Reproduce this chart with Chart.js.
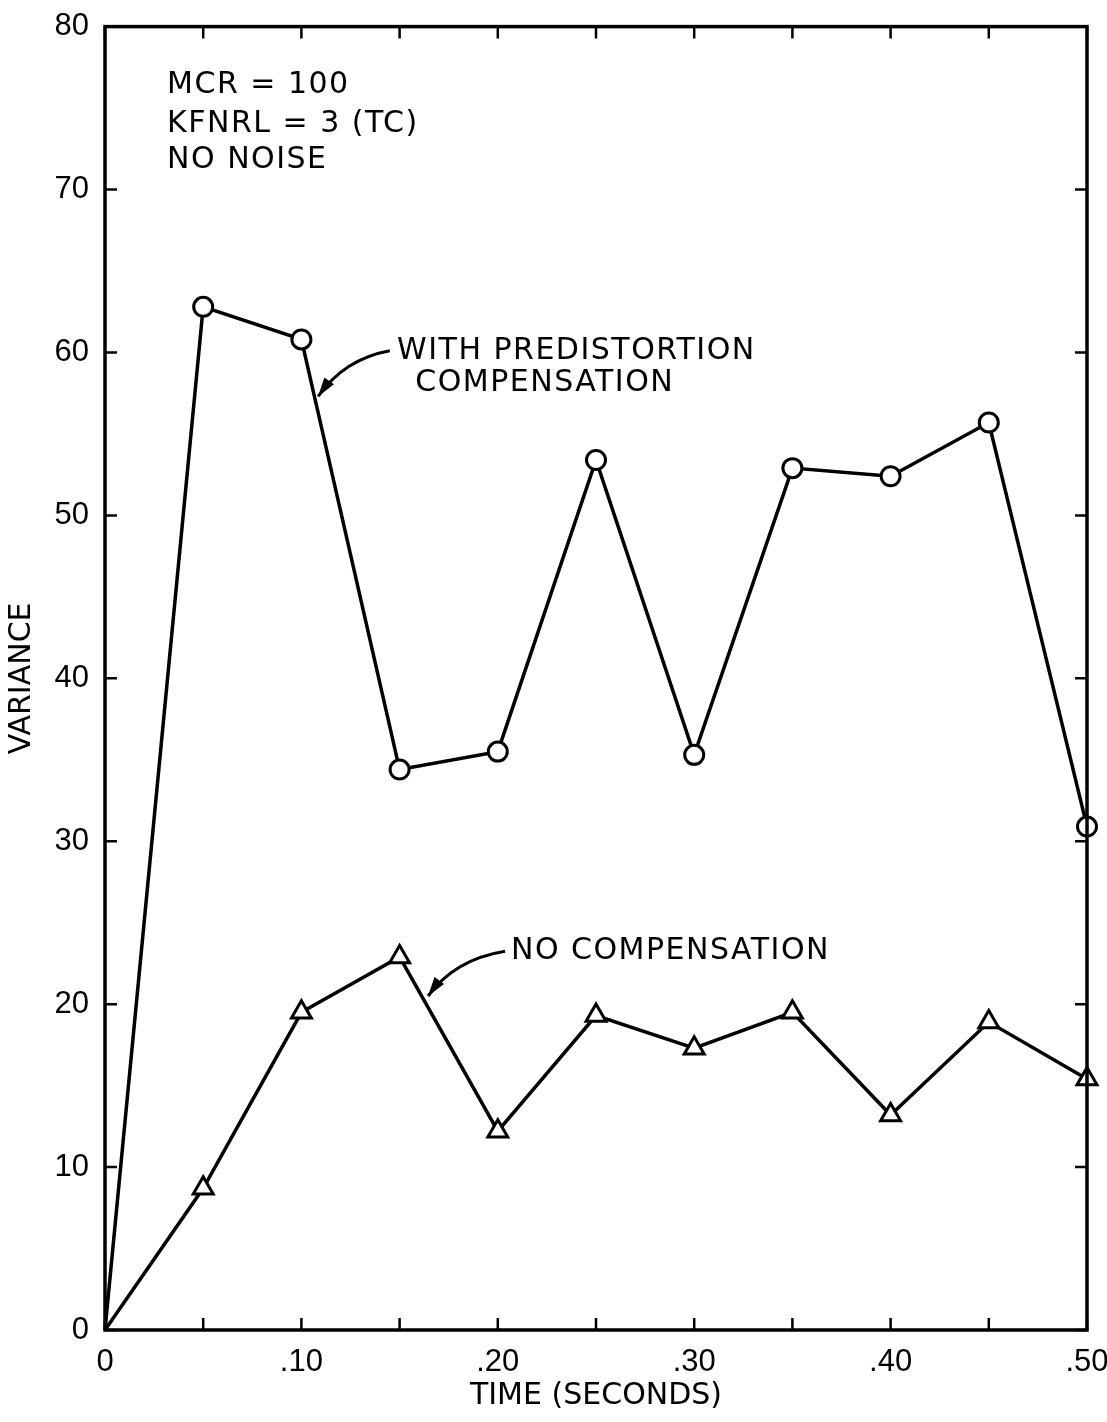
<!DOCTYPE html>
<html lang="en">
<head>
  <meta charset="UTF-8" />
  <title>Variance vs Time</title>
  <style>
    body { margin: 0; background: #fff; overflow: hidden; }
    #wrap { width: 1107px; height: 1422px; position: relative; }
  </style>
</head>
<body>
  <div id="wrap"><canvas id="chartCanvas"></canvas></div>
  <script src="https://cdn.jsdelivr.net/npm/chart.js"></script>
  <script>
    // values
    const times = [0, 0.05, 0.10, 0.15, 0.20, 0.25, 0.30, 0.35, 0.40, 0.45, 0.50];
    const withComp = [0, 62.8, 60.8, 34.4, 35.5, 53.4, 35.3, 52.9, 52.4, 55.7, 30.9];
    const noComp = [0, 8.7, 19.5, 22.9, 12.2, 19.3, 17.3, 19.5, 13.2, 18.9, 15.4];
    const yTicks = [0, 10, 20, 30, 40, 50, 60, 70, 80];
    const xLabelled = [0, 0.10, 0.20, 0.30, 0.40, 0.50];

    const FONT = "'DejaVu Sans', sans-serif";
    const TICK_FONT = "'Liberation Sans', sans-serif";

    // notes on the plot, placed in data units
    const notes = [
      { text: 'MCR = 100', x: 0.0316, y: 76.4 },
      { text: 'KFNRL = 3 (TC)', x: 0.0316, y: 74.0 },
      { text: 'NO NOISE', x: 0.0316, y: 71.8 },
      { text: 'WITH PREDISTORTION', x: 0.1487, y: 60.1 },
      { text: 'COMPENSATION', x: 0.158, y: 58.1 },
      { text: 'NO COMPENSATION', x: 0.2067, y: 23.25 }
    ];
    const arrows = [
      { from: [0.145, 60.1], ctrl: [0.122, 59.6], to: [0.1085, 57.3] },
      { from: [0.2037, 23.25], ctrl: [0.178, 22.75], to: [0.1645, 20.5] }
    ];

    const toPts = vals => times.map((t, i) => ({ x: t, y: vals[i] }));

    const framePlugin = {
      id: 'frame',
      afterDraw(chart) {
        const { ctx, chartArea: a, scales } = chart;
        const xs = scales.x, ys = scales.y;
        ctx.save();
        ctx.strokeStyle = '#000';
        ctx.lineWidth = 3.5;
        ctx.strokeRect(a.left, a.top, a.right - a.left, a.bottom - a.top);
        ctx.lineWidth = 2.5;
        const len = 12;
        xs.ticks.forEach(t => {
          const px = xs.getPixelForValue(t.value);
          ctx.beginPath();
          ctx.moveTo(px, a.bottom); ctx.lineTo(px, a.bottom - len);
          ctx.moveTo(px, a.top); ctx.lineTo(px, a.top + len);
          ctx.stroke();
        });
        ys.ticks.forEach(t => {
          const py = ys.getPixelForValue(t.value);
          ctx.beginPath();
          ctx.moveTo(a.left, py); ctx.lineTo(a.left + len, py);
          ctx.moveTo(a.right, py); ctx.lineTo(a.right - len, py);
          ctx.stroke();
        });

        // text notes
        ctx.fillStyle = '#000';
        ctx.font = '30px ' + FONT;
        ctx.letterSpacing = '1.5px';
        ctx.textBaseline = 'middle';
        ctx.textAlign = 'left';
        notes.forEach(n => {
          ctx.fillText(n.text, xs.getPixelForValue(n.x), ys.getPixelForValue(n.y));
        });
        ctx.letterSpacing = '0px';

        // curved pointers
        arrows.forEach(ar => {
          const p0 = [xs.getPixelForValue(ar.from[0]), ys.getPixelForValue(ar.from[1])];
          const c = [xs.getPixelForValue(ar.ctrl[0]), ys.getPixelForValue(ar.ctrl[1])];
          const p1 = [xs.getPixelForValue(ar.to[0]), ys.getPixelForValue(ar.to[1])];
          ctx.lineWidth = 3;
          ctx.beginPath();
          ctx.moveTo(p0[0], p0[1]);
          ctx.quadraticCurveTo(c[0], c[1], p1[0], p1[1]);
          ctx.stroke();
          const ang = Math.atan2(p1[1] - c[1], p1[0] - c[0]);
          const hl = 20, hw = 0.3;
          ctx.beginPath();
          ctx.moveTo(p1[0], p1[1]);
          ctx.lineTo(p1[0] - hl * Math.cos(ang - hw), p1[1] - hl * Math.sin(ang - hw));
          ctx.lineTo(p1[0] - hl * Math.cos(ang + hw), p1[1] - hl * Math.sin(ang + hw));
          ctx.closePath();
          ctx.fill();
        });
        ctx.restore();
      }
    };

    const ctx = document.getElementById('chartCanvas').getContext('2d');
    new Chart(ctx, {
      type: 'line',
      data: {
        datasets: [
          {
            label: 'With predistortion compensation',
            data: toPts(withComp),
            borderColor: '#000',
            borderWidth: 3.5,
            pointStyle: 'circle',
            pointRadius: times.map((t, i) => i === 0 ? 0 : 9.5),
            pointBackgroundColor: '#fff',
            pointBorderColor: '#000',
            pointBorderWidth: 3,
            tension: 0,
            clip: false
          },
          {
            label: 'No compensation',
            data: toPts(noComp),
            borderColor: '#000',
            borderWidth: 3.5,
            pointStyle: 'triangle',
            pointRadius: times.map((t, i) => i === 0 ? 0 : 11.5),
            pointBackgroundColor: '#fff',
            pointBorderColor: '#000',
            pointBorderWidth: 3,
            tension: 0,
            clip: false
          }
        ]
      },
      options: {
        responsive: true,
        maintainAspectRatio: false,
        animation: false,
        layout: { padding: { top: 22, right: 20, left: 0, bottom: 0 } },
        plugins: { legend: { display: false }, tooltip: { enabled: false } },
        scales: {
          x: {
            type: 'linear',
            min: 0,
            max: 0.5,
            grid: { display: false },
            border: { display: false },
            ticks: {
              stepSize: 0.05,
              autoSkip: false,
              maxRotation: 0,
              padding: 6,
              color: '#000',
              font: { family: TICK_FONT, size: 31 },
              callback: v => {
                const hit = xLabelled.find(l => Math.abs(l - v) < 1e-6);
                if (hit === undefined) return '';
                return hit === 0 ? '0' : '.' + Math.round(hit * 100);
              }
            },
            title: {
              display: true,
              text: 'TIME (SECONDS)',
              color: '#000',
              font: { family: FONT, size: 30 },
              padding: { top: 0, bottom: 8 }
            },
            afterFit: s => { s.height = 92; s.paddingRight = 0; s.paddingLeft = 0; }
          },
          y: {
            min: 0,
            max: 80,
            grid: { display: false },
            border: { display: false },
            afterBuildTicks: s => { s.ticks = yTicks.map(v => ({ value: v })); },
            ticks: {
              padding: 8,
              color: '#000',
              font: { family: TICK_FONT, size: 31 }
            },
            title: {
              display: true,
              text: 'VARIANCE',
              color: '#000',
              font: { family: FONT, size: 30 },
              padding: { top: 4, bottom: 0 }
            },
            afterFit: s => { s.width = 105; }
          }
        }
      },
      plugins: [framePlugin]
    });
  </script>
</body>
</html>
